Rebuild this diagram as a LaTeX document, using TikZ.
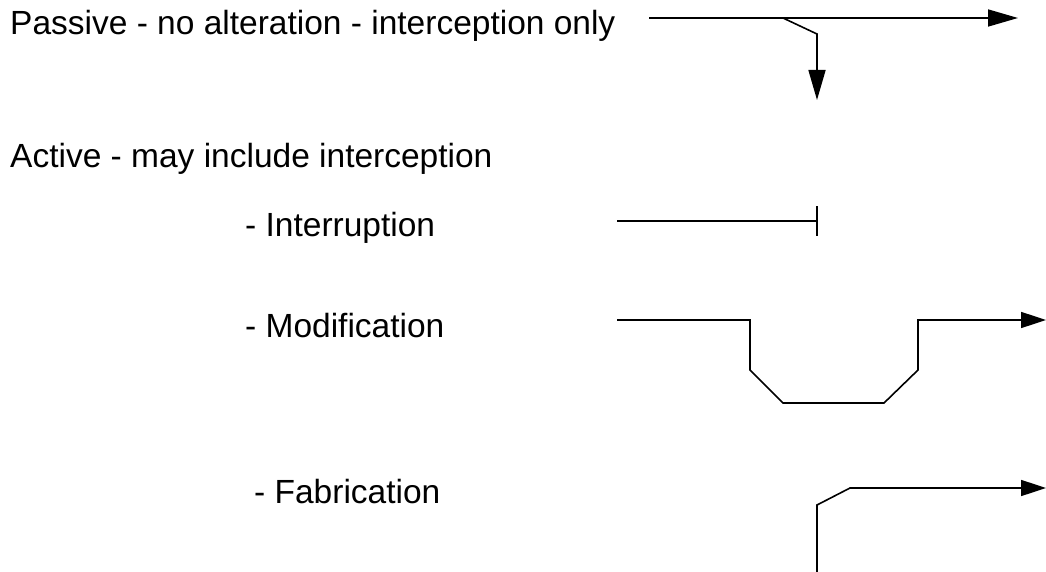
\documentclass[tikz,border=0pt]{standalone}
\usepackage{fontspec}
\setmainfont{Liberation Sans}
\usetikzlibrary{arrows.meta}
\begin{document}
\begin{tikzpicture}[x=1pt,y=-1pt,
  lbl/.style={anchor=base west,inner sep=0pt,font=\fontsize{33.5}{37}\selectfont},
  wire/.style={line width=1.6pt,line join=miter},
  bigtip/.style={-{Triangle[length=30pt,width=17pt]}},
  smalltip/.style={-{Triangle[length=25pt,width=16pt]}}]
\useasboundingbox (0,0) rectangle (1046,572);
% labels
\node[lbl] (passive) at (10,35) {Passive - no alteration - interception only};
\node[lbl] (active) at (10,168) {Active - may include interception};
\node[lbl] (interr) at (245,236) {- Interruption};
\node[lbl] (modif) at (245,337) {- Modification};
\node[lbl] (fabr) at (254,503) {- Fabrication};
% passive
\coordinate (p0) at (649,18);
\coordinate (p1) at (1018,18);
\coordinate (pb) at (783,18);
\coordinate (pk) at (817,34);
\coordinate (pd) at (817,100);
\draw[wire,bigtip] (p0) -- (p1);
\draw[wire,bigtip] (pb) -- (pk) -- (pd);
% interruption
\coordinate (i0) at (617,221);
\coordinate (i1) at (817,221);
\coordinate (ia) at (817,206);
\coordinate (ib) at (817,236);
\draw[wire] (i0) -- (i1);
\draw[wire] (ia) -- (ib);
% modification
\coordinate (m0) at (617,320);
\coordinate (m1) at (750,320);
\coordinate (m2) at (750,370);
\coordinate (m3) at (783,403);
\coordinate (m4) at (884,403);
\coordinate (m5) at (918,370);
\coordinate (m6) at (918,320);
\coordinate (m7) at (1046,320);
\draw[wire,smalltip] (m0) -- (m1) -- (m2) -- (m3) -- (m4) -- (m5) -- (m6) -- (m7);
% fabrication
\coordinate (f0) at (817,572);
\coordinate (f1) at (817,505);
\coordinate (f2) at (850,488);
\coordinate (f3) at (1046,488);
\draw[wire,smalltip] (f0) -- (f1) -- (f2) -- (f3);
\end{tikzpicture}
\end{document}
